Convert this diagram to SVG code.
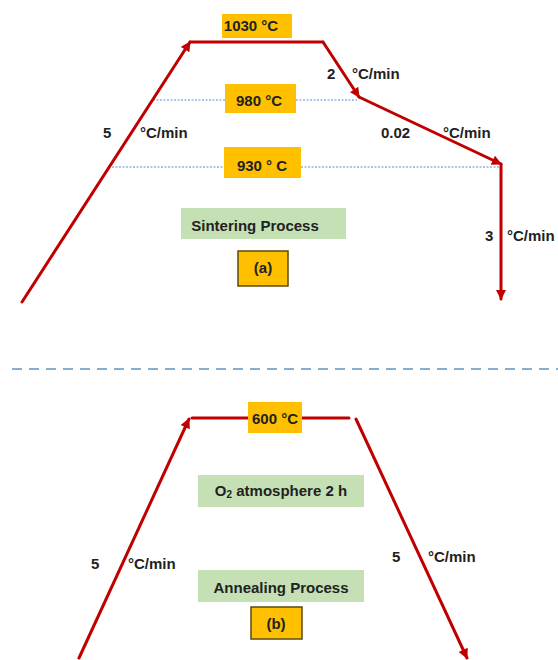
<svg xmlns="http://www.w3.org/2000/svg" width="558" height="660" viewBox="0 0 558 660">
<defs>
<style>
.ln{stroke:#c00000;stroke-width:3;fill:none;stroke-linecap:round}
.dot{stroke:#8db4d9;stroke-width:1.3;stroke-dasharray:2 1.5;fill:none}
.dash{stroke:#8aaed3;stroke-width:2;stroke-dasharray:10 7;fill:none}
.or{fill:#ffc000}
.orb{fill:#ffc000;stroke:#5a4a10;stroke-width:1.5}
.gr{fill:#c5e0b4}
text{font-family:"Liberation Sans",Arial,sans-serif;font-weight:bold;font-size:15px;fill:#222222;dominant-baseline:central}
.c{text-anchor:middle}
</style>
<marker id="ah" viewBox="0 0 10 10" refX="9" refY="5" markerWidth="11" markerHeight="10" markerUnits="userSpaceOnUse" orient="auto">
<path d="M0,0 L10,5 L0,10 z" fill="#c00000"/>
</marker>
</defs>
<rect width="558" height="660" fill="#ffffff"/>

<g id="guides">
<line class="dot" x1="153" y1="100" x2="225" y2="100"/>
<line class="dot" x1="296" y1="100" x2="357" y2="100"/>
<line class="dot" x1="112" y1="167" x2="224" y2="167"/>
<line class="dot" x1="301" y1="167" x2="500" y2="167"/>
<line class="dash" x1="12" y1="369" x2="558" y2="369"/>
</g>

<g id="connectors">
<line class="ln" x1="22" y1="302" x2="190" y2="42" marker-end="url(#ah)"/>
<line class="ln" x1="190" y1="42" x2="323" y2="42"/>
<line class="ln" x1="323" y1="42" x2="359" y2="97" marker-end="url(#ah)"/>
<line class="ln" x1="359" y1="97" x2="501" y2="164" marker-end="url(#ah)"/>
<line class="ln" x1="501" y1="164" x2="501" y2="299" marker-end="url(#ah)"/>
<line class="ln" x1="79" y1="658" x2="189" y2="419" marker-end="url(#ah)"/>
<line class="ln" x1="192" y1="418" x2="248" y2="418"/>
<line class="ln" x1="302" y1="418" x2="349" y2="418"/>
<line class="ln" x1="356" y1="419" x2="467" y2="658" marker-end="url(#ah)"/>
</g>

<g id="t1030"><rect class="or" x="222" y="14" width="70" height="24"/><text class="c" x="251" y="25">1030 °C</text></g>
<g id="t980"><rect class="or" x="225" y="84" width="71" height="29"/><text class="c" x="259" y="100">980 °C</text></g>
<g id="t930"><rect class="or" x="224" y="147" width="77" height="31"/><text class="c" x="262" y="165">930 ° C</text></g>
<g id="sintering"><rect class="gr" x="181" y="208" width="165" height="31"/><text class="c" x="255" y="225">Sintering Process</text></g>
<g id="labelA"><rect class="orb" x="238" y="251" width="50" height="35"/><text class="c" x="263" y="267">(a)</text></g>

<g id="rates1">
<text x="103" y="132">5</text><text x="140" y="132">°C/min</text>
<text x="327" y="73">2</text><text x="352" y="73">°C/min</text>
<text x="381" y="132">0.02</text><text x="443" y="132">°C/min</text>
<text x="485" y="235">3</text><text x="507" y="235">°C/min</text>
</g>

<g id="t600"><rect class="or" x="248" y="402" width="54" height="31"/><text class="c" x="275" y="418">600 °C</text></g>
<g id="o2"><rect class="gr" x="198" y="475" width="166" height="32"/><text class="c" x="281" y="490">O<tspan font-size="10" dy="4">2</tspan><tspan dy="-4"> atmosphere 2 h</tspan></text></g>
<g id="annealing"><rect class="gr" x="198" y="570" width="166" height="32"/><text class="c" x="281" y="587">Annealing Process</text></g>
<g id="labelB"><rect class="orb" x="251" y="607" width="51" height="32"/><text class="c" x="276" y="623">(b)</text></g>

<g id="rates2">
<text x="91" y="563">5</text><text x="128" y="563">°C/min</text>
<text x="392" y="556">5</text><text x="428" y="556">°C/min</text>
</g>
</svg>
